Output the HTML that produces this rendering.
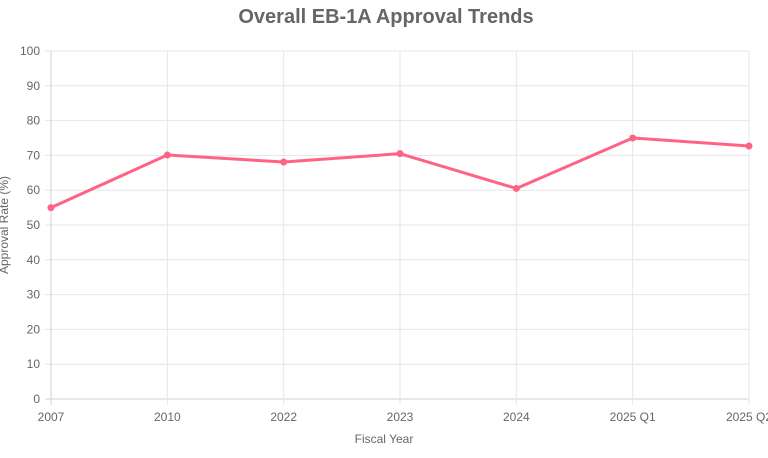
<!DOCTYPE html>
<html><head><meta charset="utf-8"><style>
body{margin:0;background:#fff;width:768px;height:453px;overflow:hidden;font-family:"Liberation Sans",Arial,sans-serif}
</style></head><body>
<svg id="chart" width="768" height="453">
<text x="386" y="23" text-anchor="middle" font-size="20" font-weight="bold" fill="#666">Overall EB-1A Approval Trends</text>
<g id="grid"></g><g id="ticks"></g><g id="series"></g>
<text x="384" y="443" text-anchor="middle" font-size="12" fill="#666">Fiscal Year</text>
<text transform="translate(8,225) rotate(-90)" text-anchor="middle" font-size="12" fill="#666">Approval Rate (%)</text>
</svg>
<script>
const categories=["2007","2010","2022","2023","2024","2025 Q1","2025 Q2"];
const approvalRates=[55,70.1,68.1,70.5,60.5,75,72.7];
const yTicks=[0,10,20,30,40,50,60,70,80,90,100];
const NS="http://www.w3.org/2000/svg";
const L=51,R=749,T=51,B=399;
const xs=i=>L+(R-L)*i/(categories.length-1);
const ys=v=>B-(B-T)*v/100;
function mk(tag,attrs,parent,text){const e=document.createElementNS(NS,tag);for(const k in attrs)e.setAttribute(k,attrs[k]);if(text!==undefined)e.textContent=text;parent.appendChild(e);return e;}
const g=document.getElementById('grid'),tk=document.getElementById('ticks'),s=document.getElementById('series');
yTicks.forEach(v=>{
 const l=mk('line',{x1:L-6,x2:R,y1:ys(v),y2:ys(v),stroke:v===0?'#d0d0d0':'#e6e6e6','stroke-width':1},g);
 
 
 const t=mk('text',{x:L-11,y:ys(v)+4,'text-anchor':'end','font-size':12,fill:'#666'},tk,String(v));
 
 
});
categories.forEach((c,i)=>{
 const l=mk('line',{x1:xs(i),x2:xs(i),y1:T,y2:B+6,stroke:i===0?'#d0d0d0':'#e6e6e6','stroke-width':1},g);
 
 
 const t=mk('text',{x:xs(i),y:B+22,'text-anchor':'middle','font-size':12,fill:'#666'},tk,c);
 
 
});
const path=mk('path',{d:approvalRates.map((v,i)=>(i?'L':'M')+xs(i)+','+ys(v)).join(' '),fill:'none',stroke:'#ff6384','stroke-width':3,'stroke-linejoin':'round'},s);


approvalRates.forEach((v,i)=>{
 const p=mk('circle',{cx:xs(i),cy:ys(v),r:3.5,fill:'#ff6384'},s);
 
 
});
</script>
</body></html>
